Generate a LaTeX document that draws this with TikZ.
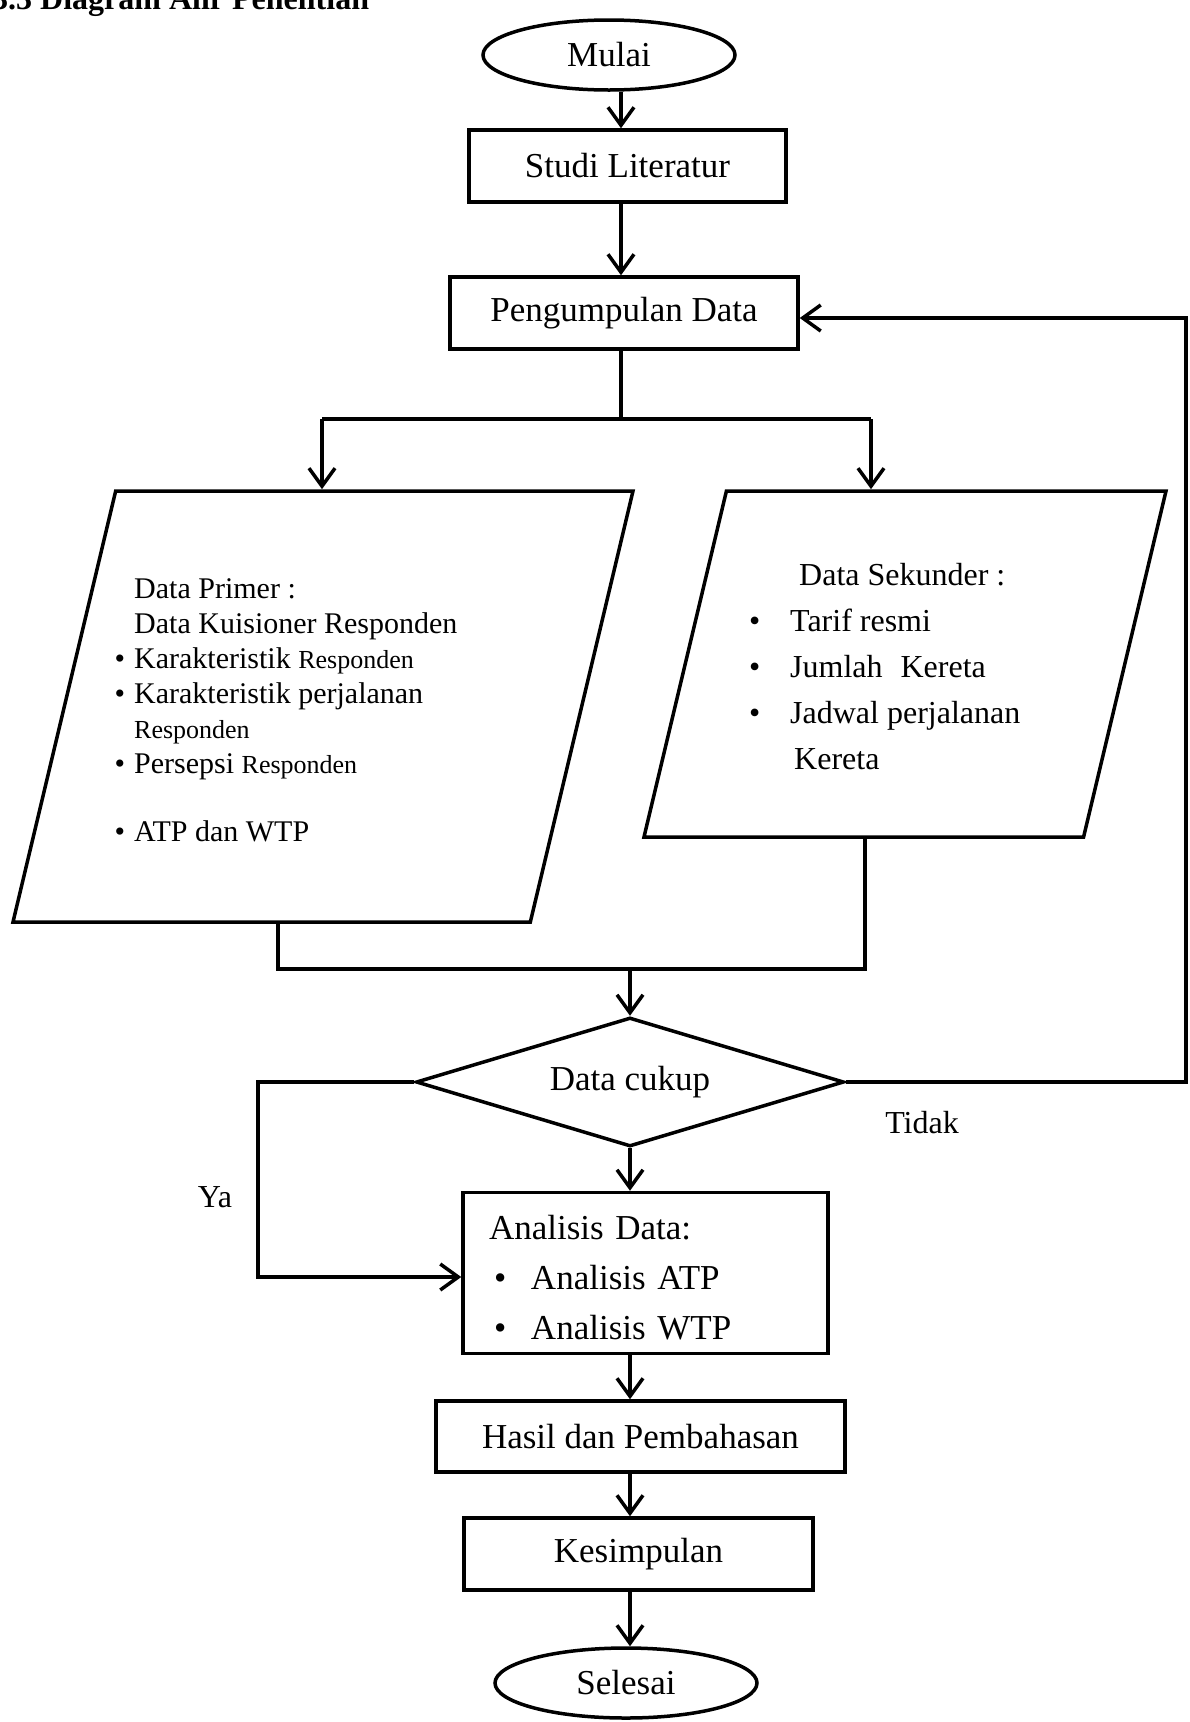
\documentclass[tikz,border=0pt]{standalone}
\usepackage{fontspec}
\setmainfont{Liberation Serif}
\usetikzlibrary{arrows.meta,shapes.geometric}
\newcommand{\itembul}[1]{\makebox[0pt][r]{\textbullet\hspace{#1}}}
\newcommand{\kecil}[1]{{\fontsize{26}{30}\selectfont #1}}
\tikzset{
  flowbox/.style={draw, line width=3.5pt, minimum height=72pt, inner sep=0pt, font=\fontsize{35}{42}\selectfont},
  flowterm/.style={draw, ellipse, line width=3.5pt, minimum height=70pt, inner sep=0pt, font=\fontsize{35}{42}\selectfont},
  flowio/.style={draw, trapezium, trapezium left angle=76.6, trapezium right angle=103.4, trapezium stretches body, line width=3.5pt, inner sep=0pt, text depth=0pt},
  flowdec/.style={draw, diamond, line width=3.5pt, inner sep=0pt, font=\fontsize{35}{42}\selectfont},
  flowtxt/.style={anchor=north west, align=left, inner sep=0pt},
  flowarr/.style={-{Straight Barb[length=18pt, width=26pt]}, line width=3.5pt},
  flowline/.style={line width=3.5pt}
}
\begin{document}
\begin{tikzpicture}[x=1pt, y=-1pt]
  \useasboundingbox (0,0) rectangle (1190,1722);
  \node[anchor=base west, inner sep=0pt, font=\fontsize{32}{38}\selectfont\bfseries] (judul) at (-8,9) {3.3 Diagram Alir Penelitian};
  \node[flowterm, minimum width=252pt] (mulai) at (609,55) {Mulai};
  \node[flowbox, minimum width=317pt] (studi) at (627.5,166) {Studi Literatur};
  \node[flowbox, minimum width=348pt] (kumpul) at (624,313) {Pengumpulan Data};
  \node[flowio, minimum width=620pt, text height=431pt] (primer) at (323,706.5) {};
  \node[flowio, minimum width=522pt, text height=346pt] (sekunder) at (905,664) {};
  \node[flowtxt, font=\fontsize{30}{35}\selectfont] (primertxt) at (134,578) {Data Primer :\\
    Data Kuisioner Responden\\
    \itembul{9pt}Karakteristik \kecil{Responden}\\
    \itembul{9pt}Karakteristik perjalanan\\
    \kecil{Responden}\\
    \itembul{9pt}Persepsi \kecil{Responden}\\[33pt]
    \itembul{9pt}ATP dan WTP};
  \node[flowtxt, font=\fontsize{32}{46}\selectfont] (sekundertxt) at (790,563) {\hspace{9pt}Data Sekunder :\\
    \itembul{30pt}Tarif resmi\\
    \itembul{30pt}Jumlah\hspace{10pt} Kereta\\
    \itembul{30pt}Jadwal perjalanan\\
    \hspace{4pt}Kereta};
  \node[flowdec, shape aspect=3.37, minimum width=428pt, minimum height=129pt] (cukup) at (630,1082) {\raisebox{-5pt}{Data cukup}};
  \node[flowbox, minimum width=365pt, minimum height=161pt, text width=313pt, inner xsep=26pt, align=left, font=\fontsize{35}{50}\selectfont] (analisis) at (645.5,1273) {\rule{0pt}{33pt}Analisis Data:\\
    \makebox[42pt][l]{\hspace{5pt}\textbullet}Analisis ATP\\
    \makebox[42pt][l]{\hspace{5pt}\textbullet}Analisis WTP};
  \node[flowbox, minimum width=409pt, minimum height=71pt] (hasil) at (640.5,1436.5) {Hasil dan Pembahasan};
  \node[flowbox, minimum width=349pt] (simpul) at (638.5,1554) {Kesimpulan};
  \node[flowterm, minimum width=262pt] (selesai) at (626,1683) {Selesai};
  \node[font=\fontsize{32}{38}\selectfont] (tidak) at (922,1123) {Tidak};
  \node[font=\fontsize{32}{38}\selectfont] (ya) at (215,1197) {Ya};
  \coordinate (atas) at (621,0);
  \coordinate (bawah) at (630,0);
  \coordinate (cabangL) at (322,419);
  \coordinate (cabangR) at (871,419);
  \coordinate (gabungL) at (278,969);
  \coordinate (gabungR) at (865,969);
  \coordinate (balik) at (1186,0);
  \coordinate (kiri) at (258,0);
  \draw[flowarr] (mulai.south -| atas) -- (studi.north -| atas);
  \draw[flowarr] (studi.south -| atas) -- (kumpul.north -| atas);
  \draw[flowline] (kumpul.south -| atas) -- (cabangL -| atas);
  \draw[flowline] (cabangL) -- (cabangR);
  \draw[flowarr] (cabangL) -- (cabangL |- primer.north);
  \draw[flowarr] (cabangR) -- (cabangR |- sekunder.north);
  \draw[flowline] (gabungL |- primer.south) -- (gabungL) -- (gabungR) -- (gabungR |- sekunder.south);
  \draw[flowarr] (cukup.north |- gabungL) -- (cukup.north);
  \draw[flowarr] (cukup.east) -- (cukup.east -| balik) -- ([yshift=-5pt]kumpul.east -| balik) -- ([yshift=-5pt]kumpul.east);
  \draw[flowarr] (cukup.west) -- (cukup.west -| kiri) -- ([yshift=-4pt]kiri |- analisis.west) -- ([yshift=-4pt]analisis.west);
  \draw[flowarr] (cukup.south) -- (analisis.north -| cukup.south);
  \draw[flowarr] (analisis.south -| bawah) -- (hasil.north -| bawah);
  \draw[flowarr] (hasil.south -| bawah) -- (simpul.north -| bawah);
  \draw[flowarr] (simpul.south -| bawah) -- (selesai.north -| bawah);
\end{tikzpicture}
\end{document}
